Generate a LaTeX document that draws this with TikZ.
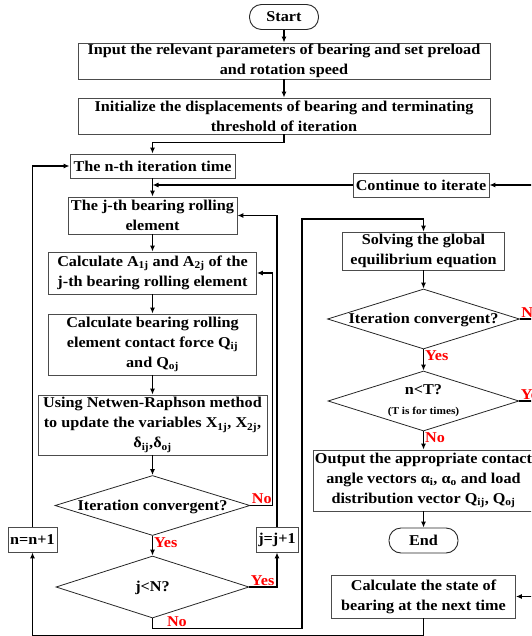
\documentclass[tikz,border=0pt]{standalone}
\usepackage{fontspec}
\setmainfont{Liberation Serif}[FakeStretch=1.08]
\usepackage{tikz}
\usetikzlibrary{positioning}
\usetikzlibrary{arrows,arrows.meta}
\usetikzlibrary{shapes}
\usetikzlibrary{calc}

\begin{document}
\begin{tikzpicture}[x=1pt,y=-1pt,>={Latex[length=6pt,width=5pt]}]

\tikzstyle{every node}=[font=\fontsize{15}{20}\selectfont\bfseries]
\tikzstyle{activity}=[rectangle, draw=black!70, line width=0.9pt, align=center, inner sep=1pt]
\tikzstyle{terminal}=[rectangle, rounded corners=12pt, draw=black!85, line width=0.9pt, minimum width=69pt, minimum height=25pt, inner sep=1pt]
\tikzstyle{decision}=[diamond, draw=black!85, line width=0.8pt, aspect=3.25, inner sep=0pt, align=center]
\tikzstyle{oneline}=[text height=10pt, text depth=1pt]
\tikzstyle{answer}=[text=red, inner sep=1pt]
\tikzstyle{flow}=[->, line width=1.1pt]

\useasboundingbox (0,0) rectangle (531,636);
\clip (0,0) rectangle (531,636);

\node[terminal] (start) at (284,17) {Start};
\node[activity, minimum width=412pt, minimum height=36pt] (input) at (284,61) {Input the relevant parameters of bearing and set preload\\and rotation speed};
\node[activity, minimum width=412pt, minimum height=36pt] (init) at (284,116) {Initialize the displacements of bearing and terminating\\threshold of iteration};
\node[activity, minimum width=165pt, minimum height=24pt] (nth) at (152.5,166) {The n-th iteration time};
\node[activity, minimum width=136pt, minimum height=24pt] (cont) at (421,185) {Continue to iterate};
\node[activity, minimum width=169pt, minimum height=37pt] (jth) at (152.5,215.5) {The j-th bearing rolling\\element};
\node[activity, minimum width=208pt, minimum height=42pt] (calcA) at (152.5,273) {Calculate A\textsubscript{1j} and A\textsubscript{2j} of the\\j-th bearing rolling element};
\node[activity, minimum width=208pt, minimum height=61pt] (force) at (152.5,344.5) {Calculate bearing rolling\\element contact force Q\textsubscript{ij}\\and Q\textsubscript{oj}};
\node[activity, minimum width=229pt, minimum height=60pt] (newton) at (152.5,425) {Using Netwen-Raphson method\\to update the variables X\textsubscript{1j}, X\textsubscript{2j},\\δ\textsubscript{ij},δ\textsubscript{oj}};
\node[decision, oneline, minimum width=195pt, minimum height=60pt] (iter1) at (152.5,505.5) {Iteration convergent?};
\node[decision, oneline, minimum width=193pt, minimum height=62pt] (jN) at (152.5,587) {j<N?};
\node[activity, minimum width=42pt, minimum height=25pt] (jplus) at (277,539.5) {j=j+1};
\node[activity, minimum width=49pt, minimum height=25pt] (nplus) at (32.5,539.5) {n=n+1};

\node[activity, minimum width=162pt, minimum height=38pt] (solve) at (423.5,251) {Solving the global\\equilibrium equation};
\node[decision, oneline, minimum width=192pt, minimum height=60pt] (iter2) at (423.5,319) {Iteration convergent?};
\node[decision, minimum width=191pt, minimum height=60pt] (nT) at (423.5,401) {n<T?\\{\fontsize{10.5}{12}\selectfont (T is for times)}};
\node[activity, minimum width=221pt, minimum height=61pt] (output) at (423.5,480.5) {Output the appropriate contact\\angle vectors α\textsubscript{i}, α\textsubscript{o} and load\\distribution vector Q\textsubscript{ij}, Q\textsubscript{oj}};
\node[terminal] (stop) at (423.5,540.5) {End};
\node[activity, minimum width=184pt, minimum height=43pt] (state) at (423.5,596.5) {Calculate the state of\\bearing at the next time};

\coordinate (turn) at (302,219);
\coordinate (bottom) at (0,636);

\draw[flow] (start) -- (input);
\draw[flow] (input) -- (init);
\draw[flow] (init.south) -- ++(0,8) -| (nth.north);
\draw[flow] (nth) -- (jth);
\draw[flow] (cont.west) -- (cont.west -| nth.south);
\draw[flow] (jth) -- (calcA);
\draw[flow] (calcA) -- (force);
\draw[flow] (force) -- (newton);
\draw[flow] (newton) -- (iter1);
\draw[flow] (iter1) -- node[answer, pos=0, anchor=north west] (yes1) {Yes} (jN);
\draw[flow] (iter1.east) -- node[answer, pos=0, anchor=south west] (no1) {No} ++(22,0) |- (calcA.east);
\draw[flow] (jN.east) -| node[answer, pos=0, anchor=south west] (yes2) {Yes} (jplus.south);
\draw[flow] (jplus.north) |- (jth.east);
\draw[flow] (nplus.north) |- (nth.west);
\draw[flow] (jN.south) -- ++(0,10) node[answer, anchor=south west, xshift=13pt] (no2) {No} -| (turn) -| (solve.north);
\draw[flow] (solve) -- (iter2);
\draw[flow] (iter2) -- node[answer, pos=0, anchor=north west] (yes3) {Yes} (nT);
\draw[flow] (iter2.east) -- node[answer, pos=0, anchor=south west] (no3) {No} ++(30,0) |- (cont.east);
\draw[flow] (nT) -- node[answer, pos=0, anchor=north west] (no4) {No} (output);
\draw[flow] (nT.east) -- node[answer, pos=0, anchor=south west] (yes4) {Yes} ++(30,0) |- (state.east);
\draw[flow] (output) -- (stop);
\draw[flow] (state.south) -- (state.south |- bottom) -| (nplus.south);

\end{tikzpicture}
\end{document}
